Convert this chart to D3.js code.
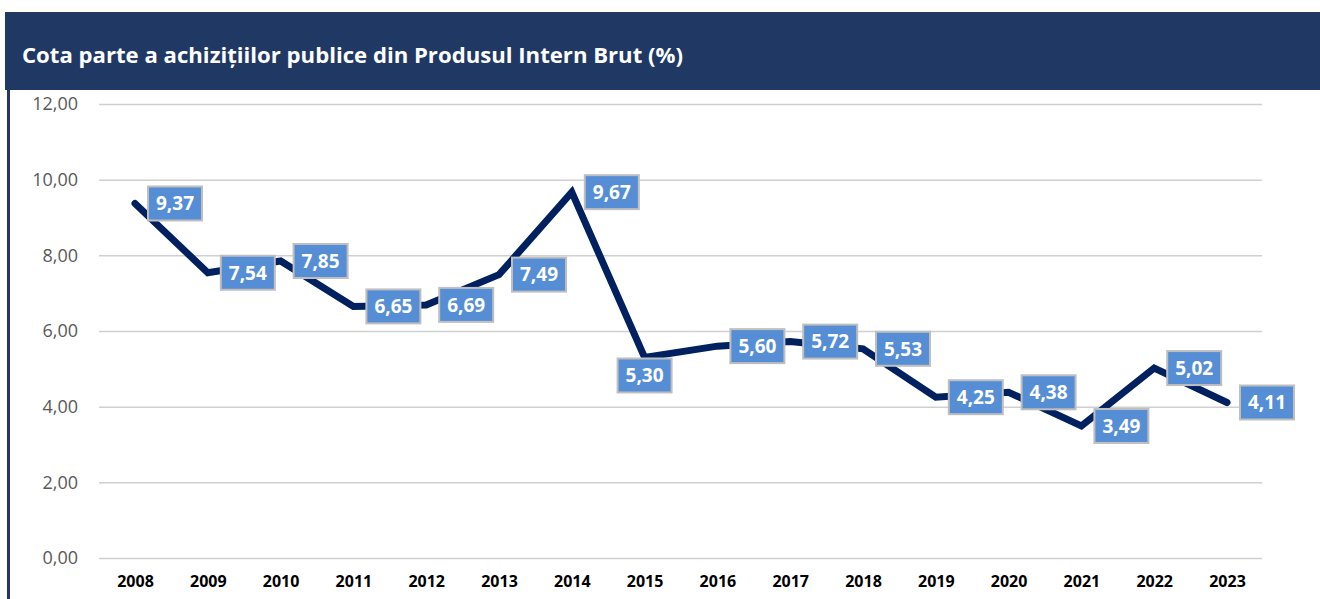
<!DOCTYPE html>
<html>
<head>
<meta charset="utf-8">
<script src="https://cdn.jsdelivr.net/npm/d3@7"></script>
<style>
  body { margin: 0; background: #fff; }
  svg { display: block; }
</style>
</head>
<body>
<div id="chart"></div>
<script>
const chartTitle = "Cota parte a achizițiilor publice din Produsul Intern Brut (%)";
const years = ["2008", "2009", "2010", "2011", "2012", "2013", "2014", "2015",
               "2016", "2017", "2018", "2019", "2020", "2021", "2022", "2023"];
const shares = [9.37, 7.54, 7.85, 6.65, 6.69, 7.49, 9.67, 5.30,
                5.60, 5.72, 5.53, 4.25, 4.38, 3.49, 5.02, 4.11];
// where each data label sits relative to its point
const labelPlacement = ["right", "right", "right", "right", "right", "right", "right", "below",
                        "right", "right", "right", "right", "right", "right", "right", "right"];
const yTicks = [0, 2, 4, 6, 8, 10, 12];

const W = 1320, H = 599;
const fmt = v => d3.format(".2f")(v).replace(".", ",");

const svg = d3.select("#chart").append("svg")
  .attr("width", W)
  .attr("height", H);

// header band
svg.append("rect")
  .attr("x", 5).attr("y", 12)
  .attr("width", W - 5).attr("height", 78)
  .attr("fill", "#203864");
svg.append("text")
  .attr("x", 22).attr("y", 63)
  .attr("fill", "#fff")
  .attr("font-family", "'Open Sans', sans-serif")
  .attr("font-weight", "bold")
  .attr("font-size", 22)
  .attr("textLength", 661)
  .attr("lengthAdjust", "spacingAndGlyphs")
  .text(chartTitle);

// left frame line
svg.append("rect")
  .attr("x", 7).attr("y", 90)
  .attr("width", 3).attr("height", H - 90)
  .attr("fill", "#203864");

const x = d3.scalePoint()
  .domain(years)
  .range([135, 1227]);

const y = d3.scaleLinear()
  .domain([0, 12])
  .range([558, 104]);

// gridlines + y labels
const yAxis = svg.append("g")
  .attr("transform", "translate(99,0)")
  .call(d3.axisLeft(y).tickValues(yTicks).tickSize(-(1262 - 99)).tickFormat(fmt).tickPadding(21));
yAxis.select(".domain").remove();
yAxis.selectAll(".tick line")
  .attr("stroke", "#d0d0d0")
  .attr("stroke-width", 1.5);
yAxis.selectAll(".tick text")
  .attr("fill", "#595959")
  .attr("font-family", "'Open Sans', sans-serif")
  .attr("font-size", 18);

// x labels
const xAxis = svg.append("g")
  .attr("transform", "translate(0,558)")
  .call(d3.axisBottom(x).tickSize(0).tickPadding(18));
xAxis.select(".domain").remove();
xAxis.selectAll(".tick text")
  .attr("fill", "#000")
  .attr("font-family", "'Open Sans', sans-serif")
  .attr("font-weight", "bold")
  .attr("font-size", 16);

const data = years.map((yr, i) => ({ year: yr, value: shares[i], pos: labelPlacement[i] }));

const line = d3.line()
  .x(d => x(d.year))
  .y(d => y(d.value));

svg.append("path")
  .datum(data)
  .attr("d", line)
  .attr("fill", "none")
  .attr("stroke", "#002060")
  .attr("stroke-width", 7)
  .attr("stroke-linejoin", "miter")
  .attr("stroke-linecap", "round");

// data labels
const boxW = 54, boxH = 34;
const labels = svg.append("g").selectAll("g")
  .data(data)
  .join("g")
  .attr("transform", d => {
    const px = x(d.year), py = y(d.value);
    if (d.pos === "below") return `translate(${px - boxW / 2},${py + 1})`;
    return `translate(${px + 13},${py - boxH / 2})`;
  });

labels.append("rect")
  .attr("width", boxW)
  .attr("height", boxH)
  .attr("fill", "#558ed5")
  .attr("stroke", "#bfbfbf")
  .attr("stroke-width", 2);

labels.append("text")
  .attr("x", boxW / 2)
  .attr("y", boxH / 2)
  .attr("dy", "0.36em")
  .attr("text-anchor", "middle")
  .attr("fill", "#fff")
  .attr("font-family", "'Open Sans', sans-serif")
  .attr("font-weight", "bold")
  .attr("font-size", 19)
  .text(d => fmt(d.value));
</script>
</body>
</html>
